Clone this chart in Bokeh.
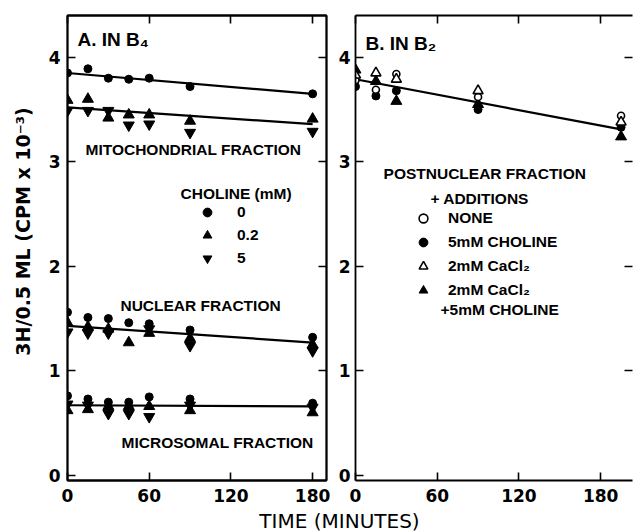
from bokeh.plotting import figure
from bokeh.models import Range1d, LinearAxis, FixedTicker, Label, Legend, LegendItem
from bokeh.layouts import row, column
from bokeh.embed import file_html
from bokeh.resources import INLINE

nan = float("nan")

# ---------------- data: panel A (in B4) ----------------
time_a = [0, 15, 30, 45, 60, 90, 180]
mito_c0 = [3.85, 3.89, 3.80, 3.79, 3.80, 3.72, 3.65]
mito_c02 = [3.59, 3.60, 3.42, 3.45, 3.45, 3.39, 3.41]
mito_c5 = [3.49, 3.49, 3.49, 3.35, 3.36, 3.28, 3.29]
nuc_c0 = [1.56, 1.51, 1.50, 1.46, 1.45, 1.39, 1.32]
nuc_c02 = [1.46, 1.42, 1.40, 1.27, 1.36, 1.31, 1.25]
nuc_c5 = [1.37, 1.36, 1.36, nan, 1.40, 1.24, 1.19]
micro_c0 = [0.76, 0.73, 0.70, 0.70, 0.75, 0.73, 0.69]
micro_c02 = [0.62, 0.63, 0.66, 0.66, 0.66, 0.62, 0.60]
micro_c5 = [0.68, 0.67, 0.59, 0.59, 0.56, 0.67, 0.65]

fit_time_a = [0, 180]
mito_fit_c0 = [3.85, 3.65]
mito_fit_choline = [3.52, 3.36]
nuc_fit = [1.43, 1.27]
micro_fit = [0.67, 0.66]

choline_labels = ["0", "0.2", "5"]

# ---------------- data: panel B (in B2) ----------------
time_b = [0, 15, 30, 90, 195]
none_b = [3.78, 3.69, 3.84, 3.62, 3.44]
choline_b = [3.72, 3.63, 3.68, 3.50, 3.33]
cacl2_b = [3.83, 3.85, 3.79, 3.68, 3.38]
cacl2_choline_b = [3.88, 3.77, 3.58, 3.55, 3.24]

fit_time_b = [0, 195]
post_fit = [3.79, 3.31]

addition_labels = ["NONE", "5mM CHOLINE", "2mM CaCl\u2082", "2mM CaCl\u2082"]

x_ticks = [0, 60, 120, 180]
y_ticks = [0, 1, 2, 3, 4]
y_ticks_right = [1, 2, 3, 4]

Y_MIN, Y_MAX = -0.05, 4.4
TXT = "Liberation Sans"
TICKF = "DejaVu Sans"


def style_axis(ax, ticks, labels=True, standoff=7, line=True):
    ax.ticker = FixedTicker(ticks=ticks)
    ax.major_tick_in = 8
    ax.major_tick_out = 0
    ax.minor_tick_line_color = None
    ax.axis_line_width = 1.8
    ax.major_tick_line_width = 1.6
    ax.major_label_text_font = TICKF
    ax.major_label_text_font_style = "bold"
    ax.major_label_text_color = "black"
    if labels:
        ax.major_label_text_font_size = "17px"
        ax.major_label_standoff = standoff
    else:
        ax.major_label_text_font_size = "0px"
        ax.major_label_text_color = None
        ax.major_label_standoff = 0
    if not line:
        ax.axis_line_color = None


def panel(x_end, frame_w, b_left, b_right, y_standoff, outline):
    p = figure(x_range=Range1d(0, x_end), y_range=Range1d(Y_MIN, Y_MAX),
               frame_width=frame_w, frame_height=465,
               min_border_left=b_left, min_border_right=b_right,
               min_border_top=15, min_border_bottom=29,
               x_axis_location=None, y_axis_location=None,
               output_backend="svg", toolbar_location=None)
    p.grid.visible = False
    p.background_fill_color = "white"
    p.border_fill_color = "white"
    if outline:
        p.outline_line_color = "black"
        p.outline_line_width = 1.8
    else:
        p.outline_line_color = None
    bottom = LinearAxis()
    style_axis(bottom, x_ticks, True, 8)
    p.add_layout(bottom, "below")
    top = LinearAxis()
    style_axis(top, x_ticks, False)
    p.add_layout(top, "above")
    left = LinearAxis()
    style_axis(left, y_ticks, True, y_standoff)
    p.add_layout(left, "left")
    right = LinearAxis()
    style_axis(right, y_ticks_right, False, line=outline)
    p.add_layout(right, "right")
    return p, left


def add_label(p, x, y, text, size="15.5px", font=TXT):
    p.add_layout(Label(x=x, y=y, text=text, text_font=font, text_font_size=size,
                       text_font_style="bold", text_color="black",
                       text_align="left", text_baseline="middle"))


# ---------------- panel A ----------------
pa, ya = panel(190.2, 259, 67, 4, 7, True)

# y-axis title; leading no-break spaces lift the visible text toward the top
ya.axis_label = "\u00a0" * 6 + "3H/0.5 ML  (CPM x 10\u207b\u00b3)"
ya.axis_label_text_font = "DejaVu Sans"
ya.axis_label_text_font_size = "19px"
ya.axis_label_text_font_style = "bold"
ya.axis_label_text_color = "black"
ya.axis_label_standoff = 12

for fx, fy in [(fit_time_a, mito_fit_c0), (fit_time_a, mito_fit_choline),
               (fit_time_a, nuc_fit), (fit_time_a, micro_fit)]:
    pa.line(fx, fy, line_color="black", line_width=2.2)

groups_a = [(mito_c0, mito_c02, mito_c5), (nuc_c0, nuc_c02, nuc_c5),
            (micro_c0, micro_c02, micro_c5)]
legend_r = None
for c0, c02, c5 in groups_a:
    r0 = pa.scatter(time_a, c0, marker="circle", size=8, color="black")
    r1 = pa.scatter(time_a, c02, marker="triangle", size=11, color="black")
    r2 = pa.scatter(time_a, c5, marker="inverted_triangle", size=11, color="black")
    if legend_r is None:
        legend_r = (r0, r1, r2)

leg_a = Legend(items=[LegendItem(label=choline_labels[i], renderers=[legend_r[i]])
                      for i in range(3)],
               location=(128, 211), orientation="vertical",
               background_fill_alpha=0, border_line_color=None,
               padding=0, margin=0, spacing=1,
               glyph_width=24, glyph_height=22, label_height=20,
               label_standoff=18, label_text_font=TXT, label_text_font_size="15.5px",
               label_text_font_style="bold", label_text_color="black",
               label_text_baseline="middle")
pa.add_layout(leg_a)

add_label(pa, 7.3, 4.17, "A.  IN  B\u2084", size="19px")
add_label(pa, 13.2, 3.12, "MITOCHONDRIAL FRACTION")
add_label(pa, 83.0, 2.70, "CHOLINE (mM)")
add_label(pa, 38.9, 1.62, "NUCLEAR FRACTION")
add_label(pa, 39.7, 0.31, "MICROSOMAL FRACTION")

# ---------------- panel B ----------------
pb, yb = panel(203.4, 277, 25, 2, 5, False)

pb.line(fit_time_b, post_fit, line_color="black", line_width=2.2)
rb_chol = pb.scatter(time_b, choline_b, marker="circle", size=8, color="black")
rb_cach = pb.scatter(time_b, cacl2_choline_b, marker="triangle", size=11, color="black")
rb_none = pb.scatter(time_b, none_b, marker="circle", size=7, fill_color="white",
                     line_color="black", line_width=1.6)
rb_ca = pb.scatter(time_b, cacl2_b, marker="triangle", size=10, fill_color="white",
                   line_color="black", line_width=1.6)

rend_b = [rb_none, rb_chol, rb_ca, rb_cach]
leg_b = Legend(items=[LegendItem(label=addition_labels[i], renderers=[rend_b[i]])
                      for i in range(4)],
               location=(56, 179), orientation="vertical",
               background_fill_alpha=0, border_line_color=None,
               padding=0, margin=0, spacing=2,
               glyph_width=24, glyph_height=22, label_height=20,
               label_standoff=13, label_text_font=TXT, label_text_font_size="15.5px",
               label_text_font_style="bold", label_text_color="black",
               label_text_baseline="middle")
pb.add_layout(leg_b)

add_label(pb, 7.3, 4.13, "B.  IN  B\u2082", size="19px")
add_label(pb, 20.6, 2.89, "POSTNUCLEAR FRACTION")
add_label(pb, 55.0, 2.65, "+ ADDITIONS")
add_label(pb, 62.4, 1.59, "+5mM CHOLINE")

# ---------------- shared x-axis title ----------------
pt = figure(width=634, height=23, x_range=Range1d(0, 634), y_range=Range1d(0, 23),
            min_border=0, output_backend="svg", toolbar_location=None)
pt.axis.visible = False
pt.grid.visible = False
pt.outline_line_color = None
pt.add_layout(Label(x=339, y=12, text="TIME (MINUTES)", text_font=TICKF,
                    text_font_size="20px", text_color="black",
                    text_align="center", text_baseline="middle"))

layout = column(row(pa, pb, spacing=0), pt, spacing=0)
open("out.html", "w").write(file_html(layout, INLINE))
